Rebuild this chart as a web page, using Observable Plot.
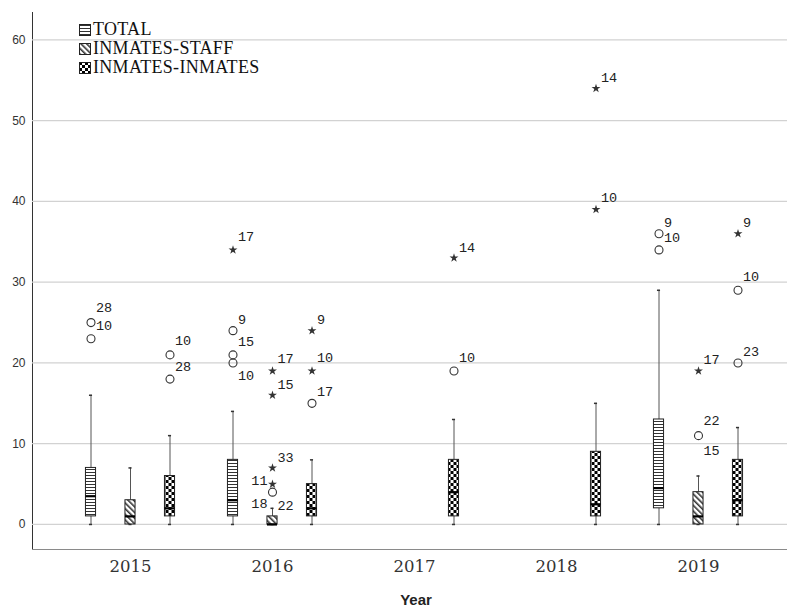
<!DOCTYPE html>
<html>
<head>
<meta charset="utf-8">
<script src="https://cdn.jsdelivr.net/npm/d3@7"></script>
<script src="https://cdn.jsdelivr.net/npm/@observablehq/plot@0.6"></script>
<style>
  body { margin: 0; background: #fff; }
  #wrap { position: relative; width: 787px; height: 616px; }
  #legend { position: absolute; left: 79px; top: 20px; font-family: "Liberation Serif", serif; font-size: 18px; letter-spacing: 0.3px; color: #111; }
  .row { display: flex; align-items: center; height: 19px; white-space: nowrap; }
  .row svg { margin-right: 2px; flex: none; }
</style>
</head>
<body>
<svg width="0" height="0" style="position:absolute">
  <defs>
    <pattern id="pTotal" width="4" height="3" patternUnits="userSpaceOnUse">
      <rect width="4" height="3" fill="#fff"/><rect y="1" width="4" height="1" fill="#333"/>
    </pattern>
    <pattern id="pStaff" width="4" height="4" patternUnits="userSpaceOnUse" patternTransform="rotate(-45)">
      <rect width="4" height="4" fill="#fff"/><rect width="1.6" height="4" fill="#333"/>
    </pattern>
    <pattern id="pInm" width="6" height="6" patternUnits="userSpaceOnUse">
      <rect width="6" height="6" fill="#fff"/><rect width="3" height="3" fill="#000"/><rect x="3" y="3" width="3" height="3" fill="#000"/>
    </pattern>
  </defs>
</svg>
<div id="wrap"><div id="chart"></div><div id="legend"></div></div>
<script>
// ---------------- data ----------------
const years  = ["2015", "2016", "2017", "2018", "2019"];
const groups = ["TOTAL", "INMATES-STAFF", "INMATES-INMATES"];
const yTicks = [0, 10, 20, 30, 40, 50, 60];

// box summaries, one entry per drawn box
const boxYear   = ["2015", "2015", "2015", "2016", "2016", "2016", "2017", "2018", "2019", "2019", "2019"];
const boxGroup  = ["TOTAL", "INMATES-STAFF", "INMATES-INMATES", "TOTAL", "INMATES-STAFF", "INMATES-INMATES",
                   "INMATES-INMATES", "INMATES-INMATES", "TOTAL", "INMATES-STAFF", "INMATES-INMATES"];
const boxLow    = [0, 0, 0, 0, 0, 0, 0, 0, 0, 0, 0];
const boxQ1     = [1, 0, 1, 1, 0, 1, 1, 1, 2, 0, 1];
const boxMedian = [3.5, 1, 2, 3, 0, 2, 4, 2.5, 4.5, 1, 3];
const boxQ3     = [7, 3, 6, 8, 1, 5, 8, 9, 13, 4, 8];
const boxHigh   = [16, 7, 11, 14, 2, 8, 13, 15, 29, 6, 12];

// outliers (circle = outlier, star = extreme)
const outYear  = ["2015", "2015", "2015", "2015",
                  "2016", "2016", "2016", "2016",
                  "2016", "2016", "2016", "2016", "2016",
                  "2016", "2016", "2016",
                  "2017", "2017", "2018", "2018",
                  "2019", "2019", "2019", "2019", "2019", "2019", "2019"];
const outGroup = ["TOTAL", "TOTAL", "INMATES-INMATES", "INMATES-INMATES",
                  "TOTAL", "TOTAL", "TOTAL", "TOTAL",
                  "INMATES-STAFF", "INMATES-STAFF", "INMATES-STAFF", "INMATES-STAFF", "INMATES-STAFF",
                  "INMATES-INMATES", "INMATES-INMATES", "INMATES-INMATES",
                  "INMATES-INMATES", "INMATES-INMATES", "INMATES-INMATES", "INMATES-INMATES",
                  "TOTAL", "TOTAL", "INMATES-STAFF", "INMATES-STAFF", "INMATES-INMATES", "INMATES-INMATES", "INMATES-INMATES"];
const outValue = [25, 23, 21, 18,
                  34, 24, 21, 20,
                  4, 5, 7, 16, 19,
                  15, 19, 24,
                  19, 33, 39, 54,
                  36, 34, 11, 19, 20, 29, 36];
const outKind  = ["circle", "circle", "circle", "circle",
                  "star", "circle", "circle", "circle",
                  "circle", "star", "star", "star", "star",
                  "circle", "star", "star",
                  "circle", "star", "star", "star",
                  "circle", "circle", "circle", "star", "circle", "circle", "star"];

// case-number labels beside the outliers
const labYear  = ["2015", "2015", "2015", "2015",
                  "2016", "2016", "2016", "2016",
                  "2016", "2016", "2016", "2016", "2016", "2016",
                  "2016", "2016", "2016",
                  "2017", "2017", "2018", "2018",
                  "2019", "2019", "2019", "2019", "2019", "2019", "2019", "2019"];
const labGroup = ["TOTAL", "TOTAL", "INMATES-INMATES", "INMATES-INMATES",
                  "TOTAL", "TOTAL", "TOTAL", "TOTAL",
                  "INMATES-STAFF", "INMATES-STAFF", "INMATES-STAFF", "INMATES-STAFF", "INMATES-STAFF", "INMATES-STAFF",
                  "INMATES-INMATES", "INMATES-INMATES", "INMATES-INMATES",
                  "INMATES-INMATES", "INMATES-INMATES", "INMATES-INMATES", "INMATES-INMATES",
                  "TOTAL", "TOTAL", "INMATES-STAFF", "INMATES-STAFF", "INMATES-STAFF",
                  "INMATES-INMATES", "INMATES-INMATES", "INMATES-INMATES"];
const labValue = [26.9, 24.6, 22.7, 19.6,
                  35.6, 25.4, 22.6, 18.4,
                  20.5, 17.3, 8.3, 2.35, 5.4, 2.6,
                  25.4, 20.6, 16.5,
                  34.3, 20.7, 55.3, 40.5,
                  37.4, 35.5, 12.8, 9.2, 20.4,
                  37.4, 30.7, 21.4];
const labText  = ["28", "10", "10", "28",
                  "17", "9", "15", "10",
                  "17", "15", "33", "22", "11", "18",
                  "9", "10", "17",
                  "14", "10", "14", "10",
                  "9", "10", "22", "15", "17",
                  "9", "10", "23"];
const labSide  = ["right", "right", "right", "right",
                  "right", "right", "right", "right",
                  "right", "right", "right", "right", "left", "left",
                  "right", "right", "right",
                  "right", "right", "right", "right",
                  "right", "right", "right", "right", "right",
                  "right", "right", "right"];

// ---------------- build ----------------
const boxes = boxYear.map((y, i) => ({year: y, group: boxGroup[i], low: boxLow[i], q1: boxQ1[i],
  median: boxMedian[i], q3: boxQ3[i], high: boxHigh[i]}));
const outs = outYear.map((y, i) => ({year: y, group: outGroup[i], value: outValue[i], kind: outKind[i]}));
const labs = labYear.map((y, i) => ({year: y, group: labGroup[i], value: labValue[i], text: labText[i], side: labSide[i]}));

const W = 787, H = 616, ML = 32, MR = 0, MT = 12, MB = 67;
const padOuter = 0.1417, align = 0.6;
const bw = (W - ML - MR) / (years.length + 2 * padOuter); // band width (padding inner 0)
const boxW = 11, capW = 4;
const boxInset = (bw - boxW) / 2, capInset = (bw - capW) / 2;

const groupDx   = [-39.5, 0, 39.5];
const groupFill = ["url(#pTotal)", "url(#pStaff)", "url(#pInm)"];

const marks = [
  Plot.ruleY(yTicks, {stroke: "#d2d2d2", strokeWidth: 1.3}),
  Plot.ruleY([-3.1], {stroke: "#8a8a8a", strokeWidth: 1.2})
];

groups.forEach((g, k) => {
  const dx = groupDx[k];
  const B = boxes.filter(d => d.group === g);
  const O = outs.filter(d => d.group === g);
  const LR = labs.filter(d => d.group === g && d.side === "right");
  const LL = labs.filter(d => d.group === g && d.side === "left");
  marks.push(
    Plot.ruleX(B, {x: "year", y1: "low", y2: "q1", dx, stroke: "#555", strokeWidth: 1}),
    Plot.ruleX(B, {x: "year", y1: "q3", y2: "high", dx, stroke: "#555", strokeWidth: 1}),
    Plot.tickY(B, {x: "year", y: "low", dx, insetLeft: capInset, insetRight: capInset, stroke: "#333", strokeWidth: 1.5}),
    Plot.tickY(B, {x: "year", y: "high", dx, insetLeft: capInset, insetRight: capInset, stroke: "#333", strokeWidth: 1.5}),
    Plot.barY(B, {x: "year", y1: "q1", y2: "q3", dx, insetLeft: boxInset, insetRight: boxInset,
      fill: groupFill[k], stroke: "#222", strokeWidth: 1}),
    Plot.tickY(B, {x: "year", y: "median", dx, insetLeft: boxInset, insetRight: boxInset, stroke: "#000", strokeWidth: 2.2}),
    Plot.dot(O.filter(d => d.kind === "circle"), {x: "year", y: "value", dx, r: 4, fill: "none", stroke: "#333", strokeWidth: 1.1}),
    Plot.dot(O.filter(d => d.kind === "star"), {x: "year", y: "value", dx, symbol: "star", r: 2.8, fill: "#333", stroke: "none"}),
    Plot.text(LR, {x: "year", y: "value", text: "text", dx: dx + 5, textAnchor: "start",
      fontFamily: "Liberation Mono, monospace", fontSize: 13.5, fill: "#222"}),
    Plot.text(LL, {x: "year", y: "value", text: "text", dx: dx - 5, textAnchor: "end",
      fontFamily: "Liberation Mono, monospace", fontSize: 13.5, fill: "#222"})
  );
});

marks.push(
  Plot.text(years, {x: d => d, text: d => d, frameAnchor: "bottom", dy: 22,
    fontFamily: "DejaVu Serif, serif", fontSize: 16.5, fill: "#333"}),
  Plot.text(["Year"], {text: d => d, frameAnchor: "bottom", dy: 55, dx: 6,
    fontFamily: "Liberation Sans, Arial, sans-serif", fontSize: 15, fontWeight: "bold", fill: "#222"})
);

const chart = Plot.plot({
  width: W,
  height: H,
  marginTop: MT,
  marginBottom: MB,
  marginLeft: ML,
  marginRight: MR,
  style: {fontFamily: "Liberation Sans, Arial, sans-serif", fontSize: "12px", color: "#333", background: "#fff"},
  x: {type: "band", domain: years, paddingInner: 0, paddingOuter: padOuter, align, axis: null},
  y: {domain: [-3.1, 63.4], ticks: yTicks, tickSize: 0, tickPadding: 7, line: true, label: null},
  marks
});
document.getElementById("chart").appendChild(chart);
d3.select(chart).selectAll(".domain").attr("stroke", "#8a8a8a").attr("stroke-width", 1.2);

// ---------------- legend ----------------
const legend = d3.select("#legend");
groups.forEach((g, k) => {
  const row = legend.append("div").attr("class", "row");
  const s = row.append("svg").attr("width", 12).attr("height", 12);
  s.append("rect").attr("x", 0.5).attr("y", 0.5).attr("width", 11).attr("height", 11)
    .attr("fill", groupFill[k]).attr("stroke", "#222");
  row.append("span").text(g);
});
</script>
</body>
</html>
